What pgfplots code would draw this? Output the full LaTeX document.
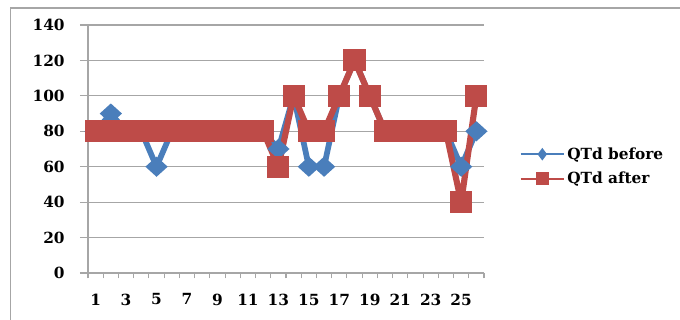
\documentclass[border=0pt]{standalone}
\usepackage{pgfplots}
\pgfplotsset{compat=1.18}
\usepackage{fontspec}
\setmainfont{DejaVu Serif}
\definecolor{xlblue}{HTML}{4A7EBB}
\definecolor{xlred}{HTML}{BE4B48}
\definecolor{gridgray}{HTML}{A6A6A6}
\begin{document}
\begin{tikzpicture}
\useasboundingbox (0,0) rectangle (510pt,240pt);
\draw[gridgray, line width=0.8pt] (8pt,0) -- (8pt,234pt) -- (510pt,234pt);
\begin{axis}[
  at={(66pt,35.25pt)}, anchor=origin,
  scale only axis, width=297pt, height=186pt,
  xmin=0.5, xmax=26.5, ymin=0, ymax=140,
  axis x line*=bottom, axis y line*=left,
  axis line style={gridgray, line width=0.8pt, -},
  xtick={1,3,...,25},
  minor xtick={0.5,1.5,...,26.5},
  ytick={0,20,...,140},
  major x tick style={draw=none},
  minor x tick style={gridgray, line width=0.8pt},
  minor tick length=4pt,
  y tick style={gridgray, line width=0.8pt},
  major tick length=6pt,
  tick align=outside,
  ymajorgrids, grid style={gridgray, line width=0.8pt},
  xticklabel style={font=\fontsize{11.5}{12}\selectfont\bfseries, yshift=-6pt},
  yticklabel style={font=\fontsize{11.5}{12}\selectfont\bfseries, xshift=-8pt},
  /pgf/number format/assume math mode=true,
  clip=false,
  legend style={at={(1.08,0.43)}, anchor=west, draw=none, fill=none,
    font=\fontsize{11.5}{12}\selectfont\bfseries, row sep=4pt,
    legend cell align=left},
  legend image code/.code={
    \draw[#1, line width=1.5pt] (0pt,0pt) -- (32pt,0pt);
    \draw[#1, line width=1.5pt, mark repeat=2, mark phase=2] plot coordinates {(0pt,0pt) (16pt,0pt) (32pt,0pt)};
  },
]
\addplot[xlblue, line width=4.3pt, line join=round, mark=diamond*, mark size=5.5pt, mark options={xscale=1.25, yscale=0.85, line join=miter}, forget plot] coordinates {
(1,80) (2,90) (3,80) (4,80) (5,60) (6,80) (7,80) (8,80) (9,80) (10,80) (11,80) (12,80) (13,70)
(14,100) (15,60) (16,60) (17,100) (18,120) (19,100) (20,80) (21,80) (22,80) (23,80) (24,80) (25,60) (26,80)};
\addplot[xlred, line width=4.6pt, line join=round, mark=square*, mark size=6pt, mark options={line join=miter}, forget plot] coordinates {
(1,80) (2,80) (3,80) (4,80) (5,80) (6,80) (7,80) (8,80) (9,80) (10,80) (11,80) (12,80) (13,60)
(14,100) (15,80) (16,80) (17,100) (18,120) (19,100) (20,80) (21,80) (22,80) (23,80) (24,80) (25,40) (26,100)};
\addlegendimage{xlblue, mark=diamond*, mark size=3.5pt}
\addlegendentry{QTd before}
\addlegendimage{xlred, mark=square*, mark size=4pt}
\addlegendentry{QTd after}
\end{axis}
\end{tikzpicture}
\end{document}
